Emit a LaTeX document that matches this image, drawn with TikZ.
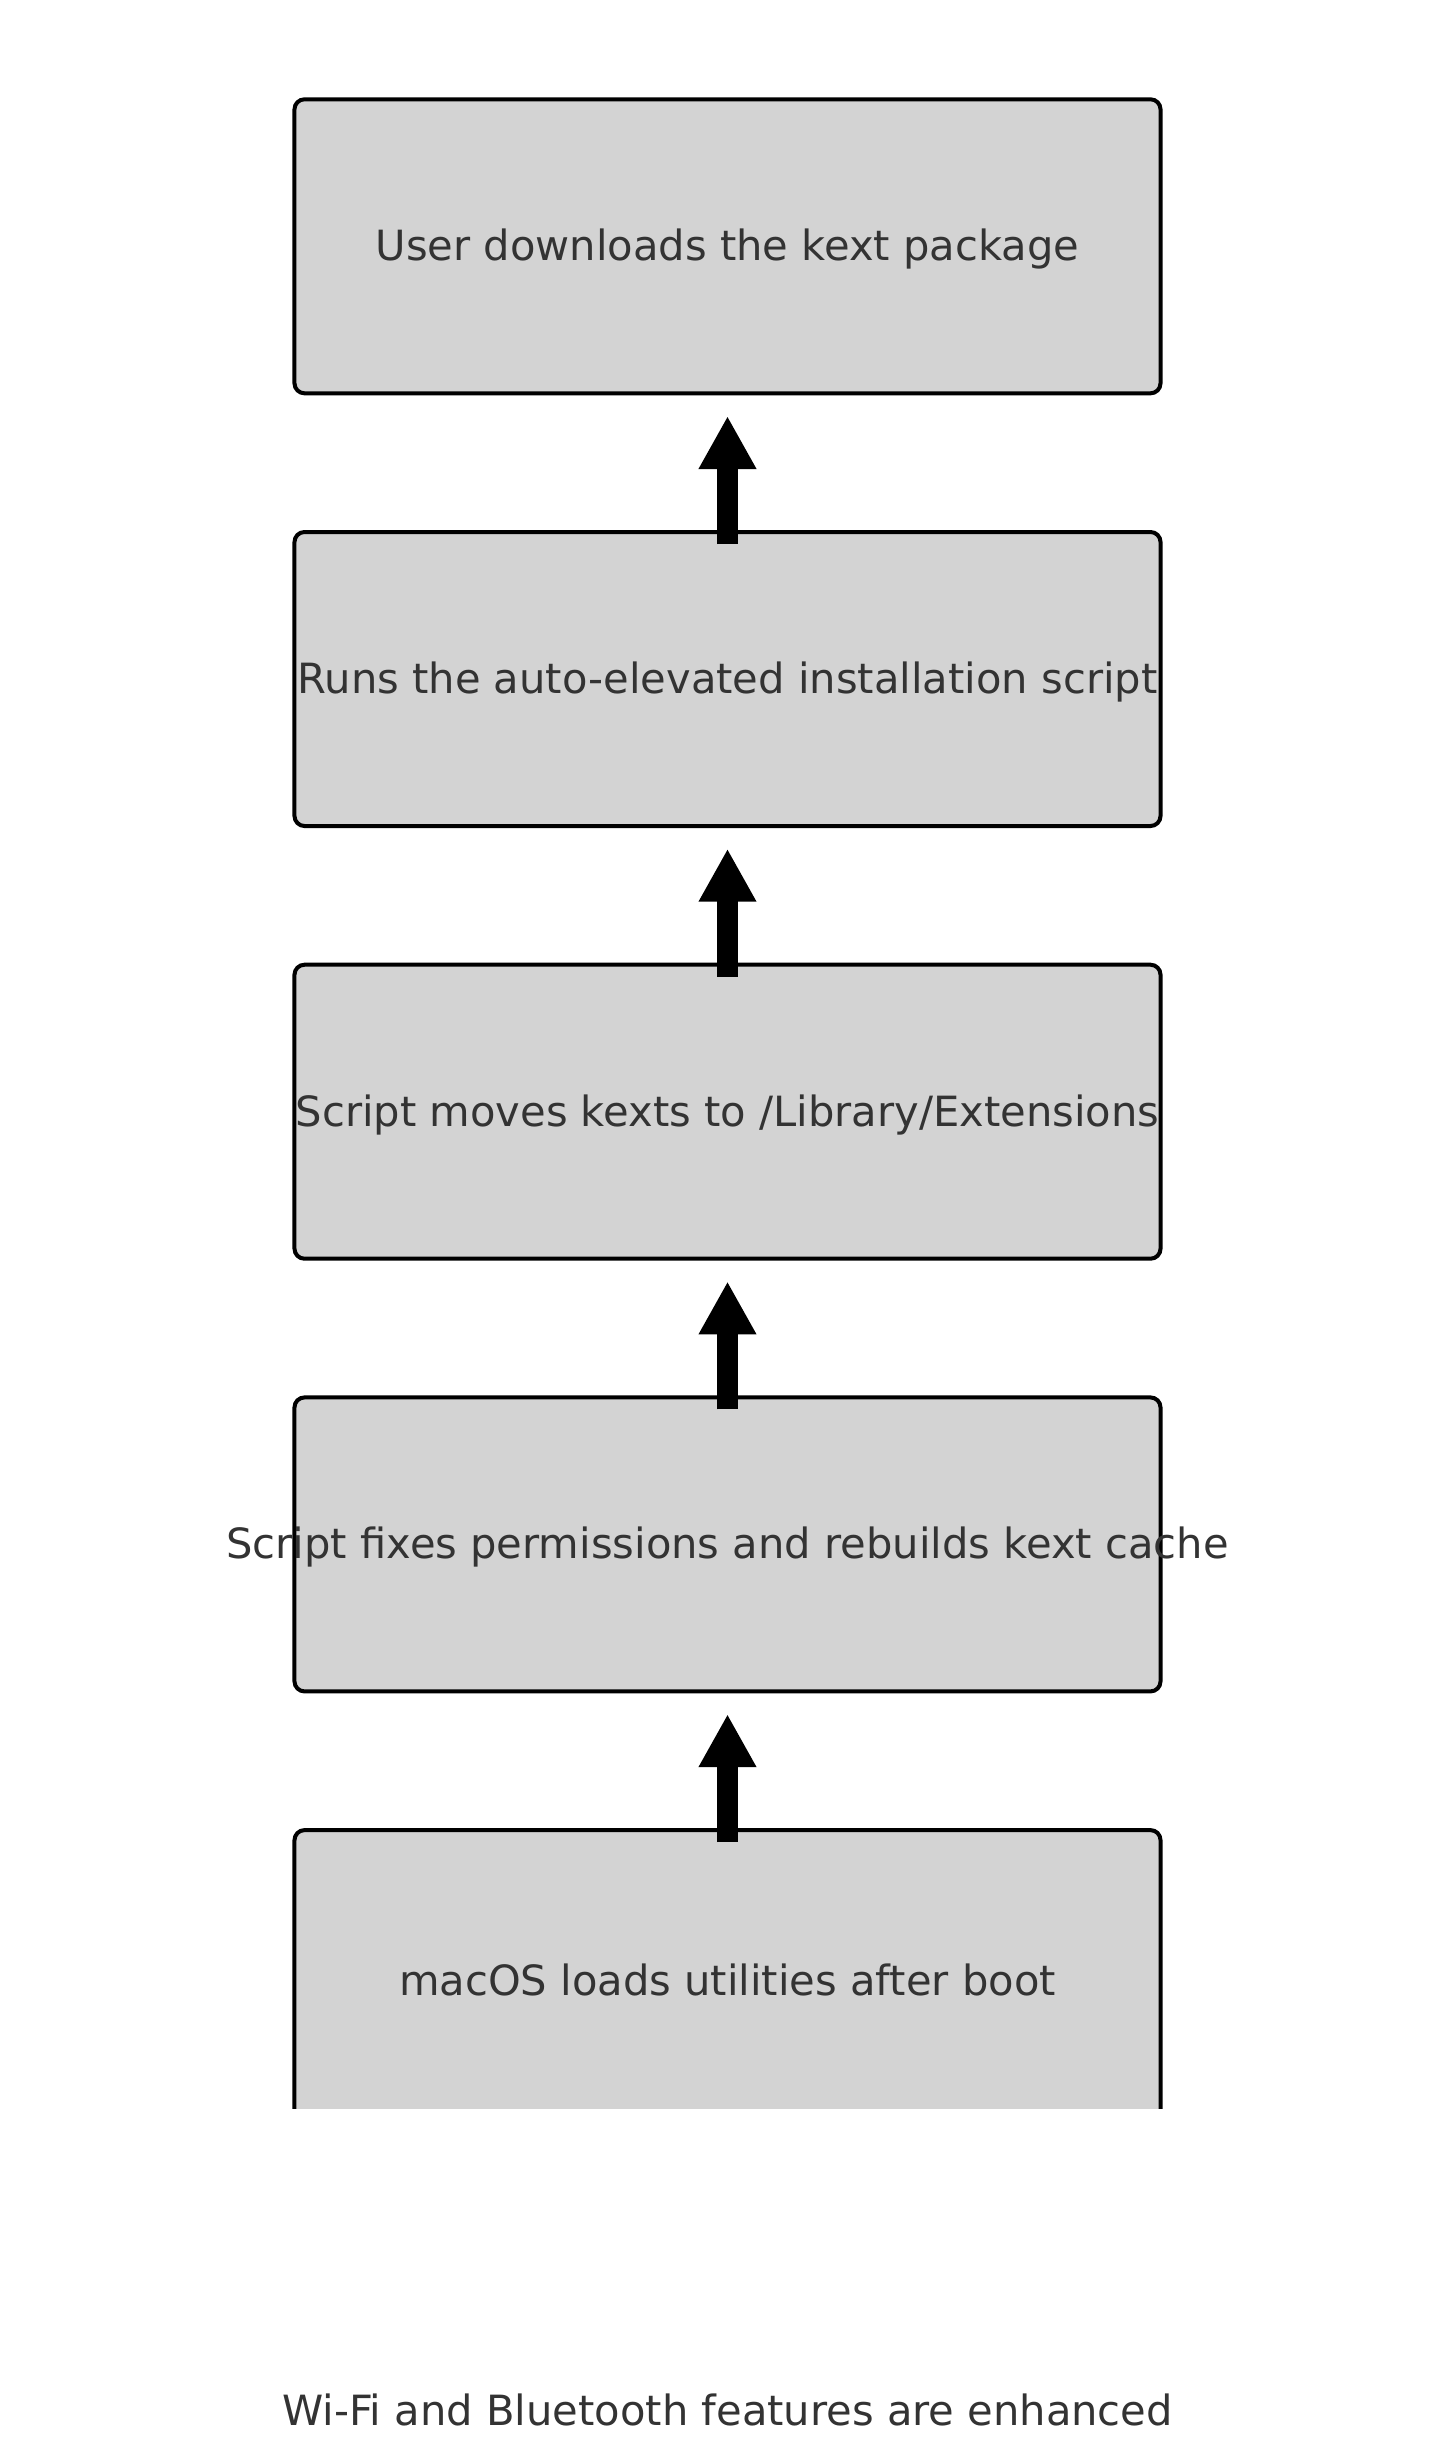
\documentclass[tikz,border=0pt]{standalone}
\usepackage{fontspec}
\setmainfont{DejaVu Sans}
\usetikzlibrary{arrows.meta}
\definecolor{boxfill}{HTML}{D3D3D3}
\definecolor{txtgray}{HTML}{333333}
\tikzset{
  stage/.style={draw=black, fill=boxfill, line width=2bp, rounded corners=5bp,
    minimum width=433bp, minimum height=147bp, inner sep=0pt, outer sep=0pt},
  stagetext/.style={text=txtgray, inner sep=0pt, font=\fontsize{20.9}{25}\selectfont},
  flow/.style={-{Triangle[width=27bp,length=26.5bp]}, line width=10.8bp, black}
}
\begin{document}
\begin{tikzpicture}[x=0.5bp,y=-0.5bp]
\useasboundingbox (0,0) rectangle (1455,2463);

% Steps
\foreach \i/\txt in {1/{User downloads the kext package},
                     2/{Runs the auto-elevated installation script},
                     3/{Script moves kexts to /Library/Extensions},
                     4/{Script fixes permissions and rebuilds kext cache}} {
  \node[stage] (s\i) at (727.5,{246.3+(\i-1)*432.7}) {};
  \node[stagetext, yshift=-1.5bp] (t\i) at (s\i.center) {\txt};
}

% Last step, cut off at the bottom
\begin{scope}
  \clip (0,0) rectangle (1455,2108);
  \node[stage] (s5) at (727.5,{246.3+4*432.7}) {};
\end{scope}
\node[stagetext, yshift=-1.5bp] (t5) at (s5.center) {macOS loads utilities after boot};

% Arrows
\foreach \a/\b in {2/1,3/2,4/3,5/4} {
  \draw[flow] ([yshift=-6bp]s\a.north) -- ([yshift=-11.35bp]s\b.south);
}

% Result
\node[stagetext, anchor=base] (res) at (727.5,2425) {Wi-Fi and Bluetooth features are enhanced};
\end{tikzpicture}
\end{document}
